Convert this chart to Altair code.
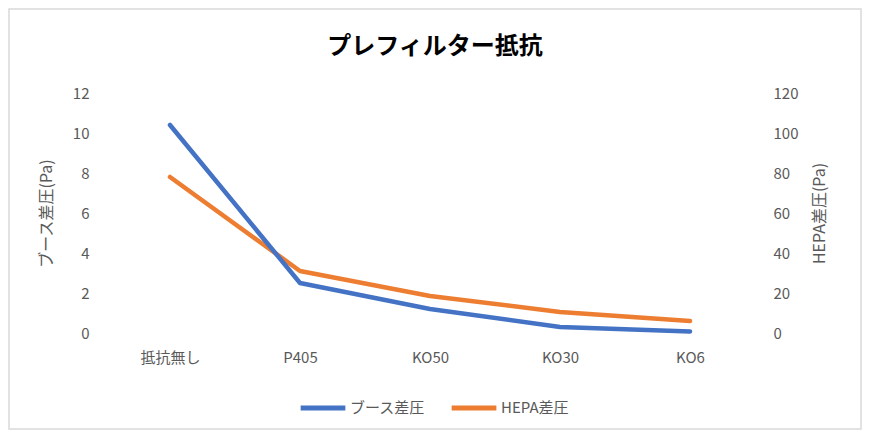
import altair as alt
import pandas as pd

categories = ["抵抗無し", "P405", "KO50", "KO30", "KO6"]
booth_pa = [10.4, 2.5, 1.2, 0.3, 0.08]
hepa_pa = [78, 31, 18.5, 10.5, 6]
series_names = ["ブース差圧", "HEPA差圧"]
series_colors = ["#4472C4", "#ED7D31"]

df = pd.DataFrame({
    "cat": categories * 2,
    "series": [series_names[0]] * 5 + [series_names[1]] * 5,
    "value": booth_pa + hepa_pa,
})

FONT = "Noto Sans CJK JP"
GRAY = "#595959"
W, H = 650, 240

x_enc = alt.X("cat:N", sort=categories, title=None,
              scale=alt.Scale(type="point", padding=0.5),
              axis=alt.Axis(labelAngle=0, labelFontSize=15, labelColor=GRAY,
                            labelPadding=17, domain=False, ticks=False, grid=False))

color_enc = alt.Color("series:N", title=None,
                      scale=alt.Scale(domain=series_names, range=series_colors),
                      legend=alt.Legend(orient="none", direction="horizontal",
                                        legendX=193, legendY=290,
                                        symbolType="stroke", symbolStrokeWidth=5,
                                        symbolSize=2000, labelFontSize=15,
                                        labelColor=GRAY, columnPadding=15,
                                        labelOffset=2))

booth = alt.Chart(df).transform_filter(
    alt.datum.series == series_names[0]
).mark_line(strokeWidth=4.5, strokeCap="round", strokeJoin="round").encode(
    x=x_enc,
    y=alt.Y("value:Q", title="ブース差圧(Pa)",
            scale=alt.Scale(domain=[0, 12], nice=False),
            axis=alt.Axis(values=[0, 2, 4, 6, 8, 10, 12], orient="left",
                          labelFontSize=15, labelColor=GRAY, labelPadding=16,
                          titleFontSize=16, titleColor=GRAY, titleFontWeight="normal",
                          titlePadding=18, domain=False, ticks=False,
                          gridColor="#d9d9d9", gridWidth=1.5)),
    color=color_enc,
)

hepa = alt.Chart(df).transform_filter(
    alt.datum.series == series_names[1]
).mark_line(strokeWidth=4.5, strokeCap="round", strokeJoin="round").encode(
    x=x_enc,
    y=alt.Y("value:Q", title="HEPA差圧(Pa)",
            scale=alt.Scale(domain=[0, 120], nice=False),
            axis=alt.Axis(values=[0, 20, 40, 60, 80, 100, 120], orient="right",
                          labelFontSize=15, labelColor=GRAY, labelPadding=18,
                          titleFontSize=16, titleColor=GRAY, titleFontWeight="normal",
                          titleAngle=270, titlePadding=30,
                          domain=False, ticks=False, grid=False)),
    color=color_enc,
)

frame = alt.Chart(pd.DataFrame({"a": [0]})).mark_rect(
    fill=None, stroke="#d9d9d9", strokeWidth=1.5, clip=False
).encode(
    x=alt.value(-96), x2=alt.value(W + 106),
    y=alt.value(-84), y2=alt.value(H + 96),
)

chart = alt.layer(frame, hepa, booth).resolve_scale(y="independent").properties(
    width=W, height=H,
    title=alt.TitleParams("プレフィルター抵抗", fontSize=24, fontWeight="bold",
                          font=FONT, color="#000000", anchor="middle",
                          frame="group", baseline="bottom", offset=0,
                          dy=75, dx=5),
    autosize=alt.AutoSizeParams(type="none"),
    padding={"left": 97, "top": 85, "right": 107, "bottom": 97},
).configure(font=FONT).configure_view(stroke=None)

chart.save("out.html", embed_options={"renderer": "svg", "actions": False})
